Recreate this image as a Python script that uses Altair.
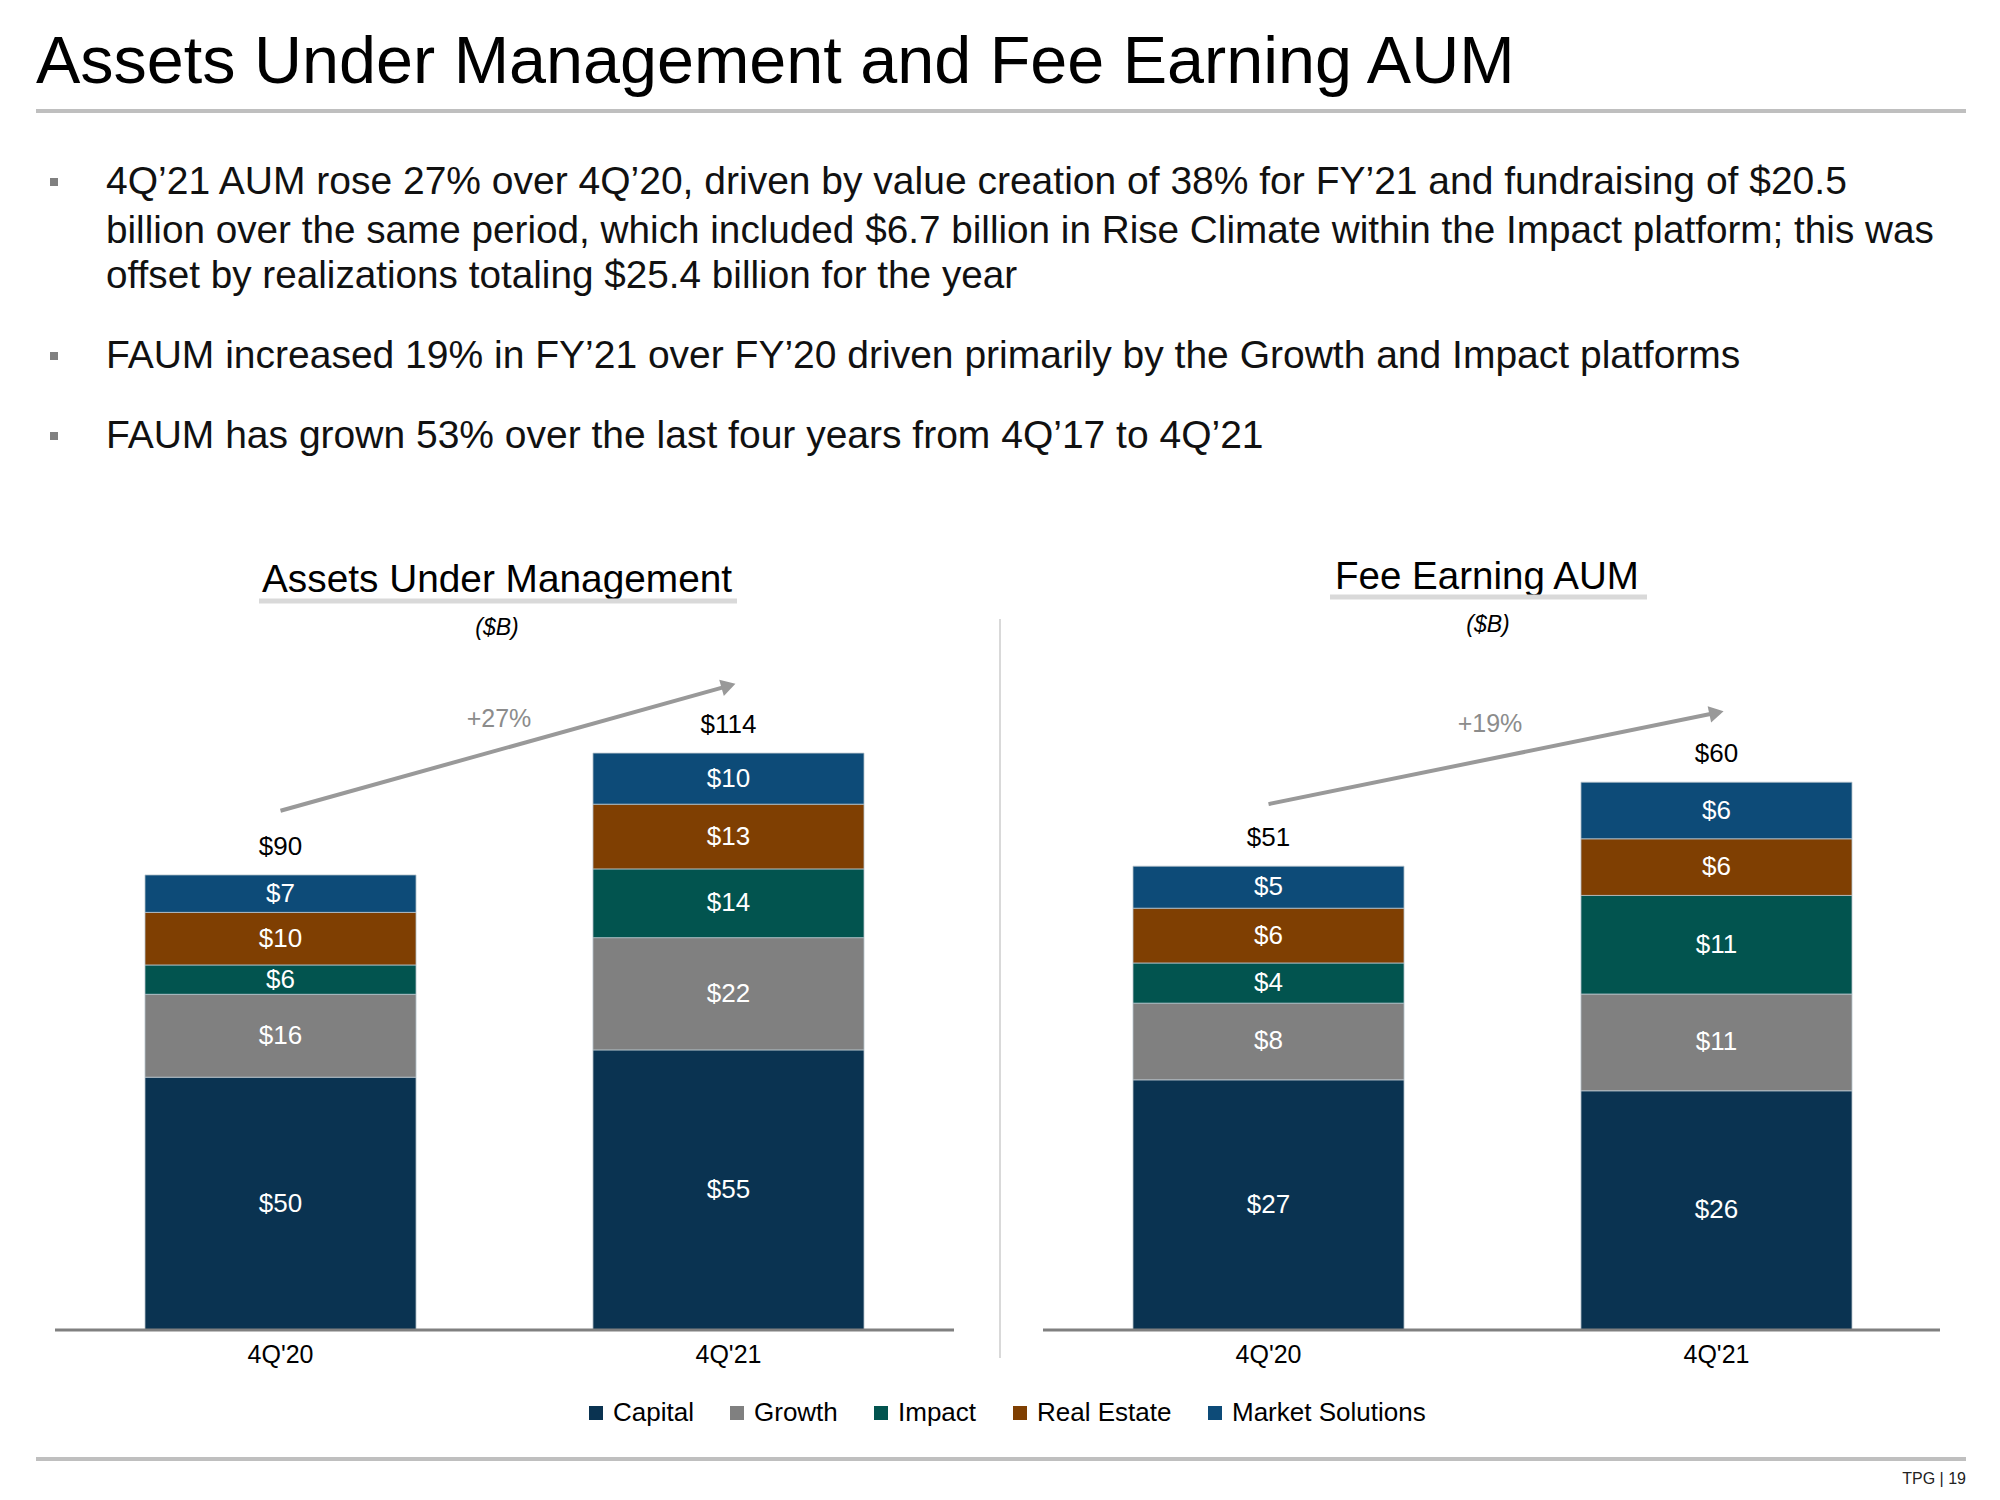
import altair as alt
import pandas as pd

# ---------------- data ----------------
periods = ["4Q'20", "4Q'21"]
segments = ["Capital", "Growth", "Impact", "Real Estate", "Market Solutions"]
seg_colors = ["#0A3351", "#808080", "#02544F", "#7F3F02", "#0D4B78"]

aum_4q20 = [50.0, 16.4, 5.8, 10.4, 7.4]
aum_4q21 = [55.4, 22.2, 13.6, 12.8, 10.1]
faum_4q20 = [27.4, 8.4, 4.4, 6.0, 4.6]
faum_4q21 = [26.2, 10.6, 10.8, 6.2, 6.2]

aum_growth = "+27%"
faum_growth = "+19%"

slide_title = "Assets Under Management and Fee Earning AUM"
bullet_lines = [
    "4Q\u201921 AUM rose 27% over 4Q\u201920, driven by value creation of 38% for FY\u201921 and fundraising of $20.5",
    "billion over the same period, which included $6.7 billion in Rise Climate within the Impact platform; this was",
    "offset by realizations totaling $25.4 billion for the year",
    "FAUM increased 19% in FY\u201921 over FY\u201920 driven primarily by the Growth and Impact platforms",
    "FAUM has grown 53% over the last four years from 4Q\u201917 to 4Q\u201921",
]
left_title = "Assets Under Management"
right_title = "Fee Earning AUM"
unit_label = "($B)"
footer = "TPG | 19"

FONT = "Liberation Sans"


def make_df(v20, v21):
    rows = []
    for p, vals in zip(periods, [v20, v21]):
        for i, (s, v) in enumerate(zip(segments, vals)):
            rows.append({"period": p, "segment": s, "order": i, "value": v})
    return pd.DataFrame(rows)


dummy = pd.DataFrame({"a": [0]})


def txt(text, x, y, size, color="#000000", align="left", baseline="middle", style="normal"):
    return alt.Chart(dummy).mark_text(
        font=FONT, fontSize=size, color=color, align=align, baseline=baseline, fontStyle=style
    ).encode(x=alt.value(x), y=alt.value(y), text=alt.value(text))


def hrule(x1, x2, y, color, width):
    return alt.Chart(dummy).mark_rule(color=color, strokeWidth=width).encode(
        x=alt.value(x1), x2=alt.value(x2), y=alt.value(y)
    )


legend = alt.Legend(
    orient="none", legendX=575, legendY=1392, direction="horizontal", columns=5,
    title=None, symbolType="square", symbolSize=196, symbolStrokeWidth=0,
    labelFont=FONT, labelFontSize=26, labelColor="#000000", labelOffset=4, labelLimit=0,
    columnPadding=30, padding=0,
)

BASE_Y = 1322


def panel(df, xrange, ydom, yrange, arrow_y, arrow_angle, growth, gx, gy, axis_x):
    xs = alt.Scale(domain=periods, range=xrange, paddingInner=0.395, paddingOuter=0)
    ys = alt.Scale(domain=ydom, range=yrange, nice=False, zero=True)
    X = alt.X("period:N", scale=xs, axis=None)
    base = alt.Chart(df)
    bars = base.mark_bar(stroke="#b8c4cc", strokeWidth=0.8).encode(
        x=X,
        y=alt.Y("value:Q", scale=ys, axis=None, stack="zero"),
        color=alt.Color("segment:N", scale=alt.Scale(domain=segments, range=seg_colors), legend=legend),
        order=alt.Order("order:Q", sort="ascending"),
    )
    seg_labels = base.transform_stack(
        stack="value", groupby=["period"], as_=["v0", "v1"],
        sort=[alt.SortField("order", order="ascending")],
    ).transform_calculate(mid="(datum.v0 + datum.v1) / 2").mark_text(
        font=FONT, fontSize=26, color="white", baseline="middle"
    ).encode(x=X, y=alt.Y("mid:Q", scale=ys, axis=None), text=alt.Text("value:Q", format="$.0f"))
    totals = base.transform_aggregate(total="sum(value)", groupby=["period"]).mark_text(
        font=FONT, fontSize=26, color="black", baseline="middle", dy=-28
    ).encode(x=X, y=alt.Y("total:Q", scale=ys, axis=None), text=alt.Text("total:Q", format="$.0f"))
    xlabels = alt.Chart(pd.DataFrame({"period": periods})).mark_text(
        font=FONT, fontSize=25, color="black", baseline="middle"
    ).encode(x=X, y=alt.value(1347), text="period:N")
    axis_line = alt.Chart(dummy).mark_rule(color="#808080", strokeWidth=3).encode(
        x=alt.value(axis_x[0]), x2=alt.value(axis_x[1]), y=alt.Y(datum=0, scale=ys, axis=None)
    )
    arrow = alt.Chart(dummy).mark_rule(color="#999999", strokeWidth=4).encode(
        x=alt.X(datum=periods[0], scale=xs, axis=None), x2=alt.datum(periods[1]),
        y=alt.Y(datum=arrow_y[0], scale=ys, axis=None), y2=alt.datum(arrow_y[1]),
    )
    head = alt.Chart(dummy).mark_point(
        shape="triangle-up", filled=True, opacity=1, color="#999999", size=280, angle=arrow_angle
    ).encode(
        x=alt.X(datum=periods[1], scale=xs, axis=None),
        y=alt.Y(datum=arrow_y[1], scale=ys, axis=None),
    )
    gtxt = txt(growth, gx, gy, 25, color="#8c8c8c", align="center")
    return alt.layer(bars, seg_labels, totals, xlabels, axis_line, arrow, head, gtxt)


left = panel(make_df(aum_4q20, aum_4q21), [137, 856], [0, 120], [BASE_Y, BASE_Y - 5.056 * 120],
             [102.7, 127.4], 74, aum_growth, 491, 711, (47, 946))
right = panel(make_df(faum_4q20, faum_4q21), [1125, 1844], [0, 70], [BASE_Y, BASE_Y - 9.13 * 70],
              [57.6, 67.6], 78, faum_growth, 1482, 716, (1035, 1932))

header = [
    txt(slide_title, 28, 75, 66.5, baseline="alphabetic"),
    hrule(28, 1958, 103, "#bfbfbf", 4),
    txt(bullet_lines[0], 98, 174, 39, color="#111111"),
    txt(bullet_lines[1], 98, 223, 38.7, color="#111111"),
    txt(bullet_lines[2], 98, 268, 38.7, color="#111111"),
    txt(bullet_lines[3], 98, 348, 39, color="#111111"),
    txt(bullet_lines[4], 98, 428, 39, color="#111111"),
]
for by in (174, 348, 428):
    header.append(
        alt.Chart(dummy).mark_square(size=64, color="#808080", opacity=1).encode(
            x=alt.value(46), y=alt.value(by)
        )
    )
header += [
    txt(left_title, 489, 572, 38.8, align="center"),
    hrule(251, 729, 593, "#d9d9d9", 5),
    txt(unit_label, 489, 620, 23, align="center", style="italic"),
    txt(right_title, 1479, 569, 38.5, align="center"),
    hrule(1322, 1639, 589, "#d9d9d9", 5),
    txt(unit_label, 1480, 617, 23, align="center", style="italic"),
    alt.Chart(dummy).mark_rule(color="#d9d9d9", strokeWidth=2).encode(
        x=alt.value(992), y=alt.value(611), y2=alt.value(1350)
    ),
    hrule(28, 1958, 1451, "#bfbfbf", 4),
    txt(footer, 1958, 1471, 16, color="#222222", align="right"),
]

chart = alt.layer(left, right, *header).resolve_scale(
    x="independent", y="independent"
).properties(
    width=1984, height=1484, padding=0, autosize=alt.AutoSizeParams(type="none"),
    background="white",
).configure_view(stroke=None)

chart.save("out.html", embed_options={"renderer": "svg", "actions": False})
